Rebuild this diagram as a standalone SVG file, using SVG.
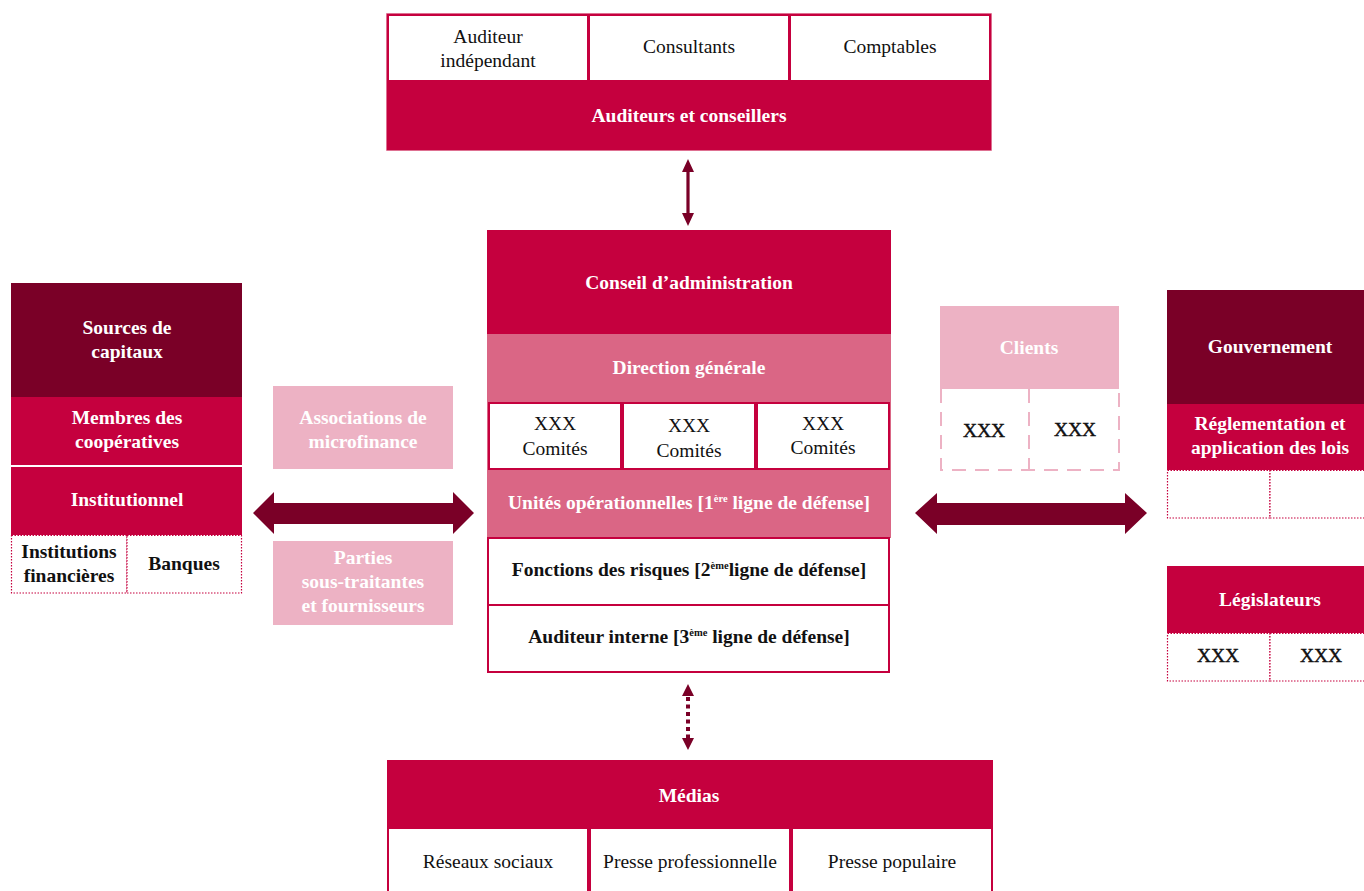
<svg xmlns="http://www.w3.org/2000/svg" width="1364" height="891" viewBox="0 0 1364 891">
<style>
.red{fill:#c5003e}
.mar{fill:#7a0027}
.mid{fill:#da6685}
.lt{fill:#edb2c4}
.wb{fill:#fff;stroke:#c5003e;stroke-width:2}
.dot{fill:#fff;stroke:#c5003e;stroke-width:1.2;stroke-dasharray:1.5 1.5}
.dash{fill:none;stroke:#edb2c4;stroke-width:2;stroke-dasharray:14 9}
text{font-family:"Liberation Serif","Times New Roman",serif;font-size:19.5px;text-anchor:middle}
.hw{fill:#fff;font-weight:bold}
.hb{fill:#111;font-weight:bold}
.sb{fill:#111;stroke:#111;stroke-width:0.45}
.n{fill:#111}
.sup{font-size:10.5px}
.arr{fill:#7a0027}
</style>

<g id="auditeurs">
<rect x="387" y="14" width="604" height="136" fill="#fff" stroke="#d4426d" stroke-width="1.5"/>
<rect class="wb" x="388" y="15" width="200" height="66" stroke-width="1.5"/>
<rect class="wb" x="589" y="15" width="200" height="66" stroke-width="1.5"/>
<rect class="wb" x="790" y="15" width="200" height="66" stroke-width="1.5"/>
<rect class="red" x="387" y="81" width="604" height="69"/>
<text class="n" x="488" y="43">Auditeur</text>
<text class="n" x="488" y="67">indépendant</text>
<text class="n" x="689" y="53">Consultants</text>
<text class="n" x="890" y="53">Comptables</text>
<text class="hw" x="689" y="122">Auditeurs et conseillers</text>
</g>

<g id="centre">
<rect class="red" x="487" y="230" width="404" height="104"/>
<text class="hw" x="689" y="289">Conseil d’administration</text>
<rect class="mid" x="487" y="334" width="404" height="68"/>
<text class="hw" x="689" y="374">Direction générale</text>
<rect class="mid" x="487" y="402" width="404" height="68"/>
<rect class="wb" x="489" y="403" width="132" height="66"/>
<rect class="wb" x="623" y="403" width="132" height="66"/>
<rect class="wb" x="757" y="403" width="132" height="66"/>
<text class="n" x="555" y="430">XXX</text>
<text class="n" x="555" y="455">Comités</text>
<text class="n" x="689" y="432">XXX</text>
<text class="n" x="689" y="457">Comités</text>
<text class="n" x="823" y="430">XXX</text>
<text class="n" x="823" y="454">Comités</text>
<rect class="mid" x="487" y="470" width="404" height="68"/>
<text class="hw" x="689" y="509">Unités opérationnelles [1<tspan class="sup" dy="-7">ère</tspan><tspan dy="7"> ligne de défense]</tspan></text>
<rect class="wb" x="488" y="538" width="401" height="67"/>
<text class="hb" x="689" y="576">Fonctions des risques [2<tspan class="sup" dy="-7">ème</tspan><tspan dy="7">ligne de défense]</tspan></text>
<rect class="wb" x="488" y="605" width="401" height="67"/>
<text class="hb" x="689" y="643">Auditeur interne [3<tspan class="sup" dy="-7">ème</tspan><tspan dy="7"> ligne de défense]</tspan></text>
</g>

<g id="medias">
<rect class="red" x="387" y="760" width="606" height="68"/>
<text class="hw" x="689" y="802">Médias</text>
<rect class="wb" x="388" y="828" width="200" height="70"/>
<rect class="wb" x="590" y="828" width="200" height="70"/>
<rect class="wb" x="792" y="828" width="200" height="70"/>
<text class="n" x="488" y="868">Réseaux sociaux</text>
<text class="n" x="690" y="868">Presse professionnelle</text>
<text class="n" x="892" y="868">Presse populaire</text>
</g>

<g id="sources">
<rect class="mar" x="11" y="283" width="231" height="114"/>
<text class="hw" x="127" y="334">Sources de</text>
<text class="hw" x="127" y="358">capitaux</text>
<rect class="red" x="11" y="397" width="231" height="68"/>
<text class="hw" x="127" y="424">Membres des</text>
<text class="hw" x="127" y="448">coopératives</text>
<rect class="red" x="11" y="467" width="231" height="68"/>
<text class="hw" x="127" y="506">Institutionnel</text>
<rect class="dot" x="11.5" y="535.5" width="115.5" height="57.5"/>
<rect class="dot" x="127" y="535.5" width="114.5" height="57.5"/>
<text class="hb" x="69" y="558">Institutions</text>
<text class="hb" x="69" y="582">financières</text>
<text class="hb" x="184" y="570">Banques</text>
</g>

<g id="associations">
<rect class="lt" x="273" y="386" width="180" height="83"/>
<text class="hw" x="363" y="424">Associations de</text>
<text class="hw" x="363" y="448">microfinance</text>
</g>

<g id="parties">
<rect class="lt" x="273" y="541" width="180" height="84"/>
<text class="hw" x="363" y="564">Parties</text>
<text class="hw" x="363" y="588">sous-traitantes</text>
<text class="hw" x="363" y="612">et fournisseurs</text>
</g>

<g id="clients">
<rect class="lt" x="940" y="306" width="179" height="83"/>
<text class="hw" x="1029" y="354">Clients</text>
<path class="dash" d="M941 389 V470 H1119 V389 M1029 389 V470"/>
<text class="sb" x="984" y="437">XXX</text>
<text class="sb" x="1075" y="436">XXX</text>
</g>

<g id="gouvernement">
<rect class="mar" x="1167" y="290" width="197" height="114"/>
<text class="hw" x="1270" y="353">Gouvernement</text>
<rect class="red" x="1167" y="404" width="197" height="66"/>
<text class="hw" x="1270" y="430">Réglementation et</text>
<text class="hw" x="1270" y="454">application des lois</text>
<rect class="dot" x="1167.5" y="470.5" width="102.5" height="47.5"/>
<rect class="dot" x="1270" y="470.5" width="100" height="47.5"/>
</g>

<g id="legislateurs">
<rect class="red" x="1167" y="566" width="197" height="67"/>
<text class="hw" x="1270" y="606">Législateurs</text>
<rect class="dot" x="1167.5" y="633.5" width="102.5" height="47.5"/>
<rect class="dot" x="1270" y="633.5" width="100" height="47.5"/>
<text class="sb" x="1218" y="662">XXX</text>
<text class="sb" x="1321" y="662">XXX</text>
</g>

<g id="connectors">
<path class="arr" d="M688 159 L694 172 L689.6 172 L689.6 213 L694 213 L688 226 L682 213 L686.4 213 L686.4 172 L682 172 Z"/>
<line x1="688" y1="697" x2="688" y2="738" stroke="#7a0027" stroke-width="4" stroke-dasharray="4 3.5"/>
<path class="arr" d="M688 684 L694 696 L682 696 Z M688 750 L694 738 L682 738 Z"/>
<path class="arr" d="M253 513 L274 492 L274 503 L453 503 L453 492 L474 513 L453 534 L453 524 L274 524 L274 534 Z"/>
<path class="arr" d="M915 513 L937 493 L937 503 L1125 503 L1125 493 L1147 513 L1125 534 L1125 525 L937 525 L937 534 Z"/>
</g>
</svg>
